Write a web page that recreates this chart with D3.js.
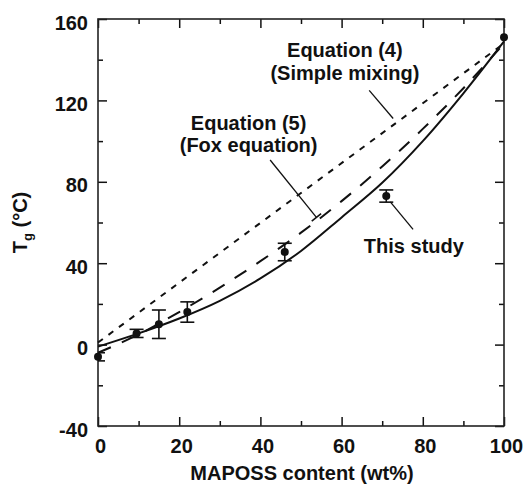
<!DOCTYPE html>
<html>
<head>
<meta charset="utf-8">
<script src="https://cdn.jsdelivr.net/npm/d3@7/dist/d3.min.js"></script>
<style>
  html, body { margin: 0; padding: 0; background: #fff; }
  svg { display: block; }
  text { font-family: "Liberation Sans", Arial, sans-serif; font-weight: bold; fill: #111; }
</style>
</head>
<body>
<svg id="chart" width="524" height="485"></svg>
<script>
// Measured Tg of the blends (wt% MAPOSS, °C, ± error)
const content = [0, 9.5, 15, 22, 46, 71, 100];
const tgMeasured = [-6, 5.5, 10, 16, 45.5, 73, 151];
const tgError = [2, 2, 7, 5, 4.3, 3, 0];

// Curves: fitted trend of this study, Fox equation, simple mixing rule
const curveContent = [0, 10, 20, 30, 40, 50, 60, 70, 80, 90, 100];
const studyTg = [-1, 5.5, 12.8, 21.5, 32.5, 46, 62.5, 79.5, 100, 123.5, 149];
const foxTg = [-4, 5, 16, 28, 41, 55, 70.5, 87.5, 106, 126, 148];
const mixContent = [0, 100];
const mixTg = [1, 148];

// Axis ticks
const xMajor = [0, 20, 40, 60, 80, 100];
const xMinor = [10, 30, 50, 70, 90];
const yMajor = [-40, 0, 40, 80, 120, 160];
const yMinor = [-20, 20, 60, 100, 140];

const svg = d3.select("#chart");
const plotL = 98, plotR = 504, plotT = 19, plotB = 426;

const x = d3.scaleLinear().domain([0, 100]).range([plotL, plotR]);
const y = d3.scaleLinear().domain([-40, 160]).range([plotB, plotT]);

const ink = "#111";

svg.append("defs").append("clipPath").attr("id", "plotClip")
  .append("rect").attr("x", plotL).attr("y", plotT)
  .attr("width", plotR - plotL).attr("height", plotB - plotT);

// Axes: ticks pointing inward on all four sides
function addAxis(axisFn, scale, values, size, transform, labels) {
  const ax = axisFn(scale).tickValues(values).tickSizeInner(-size).tickSizeOuter(0)
    .tickPadding(labels ? 12 : 0).tickFormat(labels ? (d => String(d)) : "");
  const g = svg.append("g").attr("transform", transform).call(ax);
  g.select(".domain").remove();
  g.selectAll(".tick line").attr("stroke", ink).attr("stroke-width", 1.5);
  return g;
}
const gx = addAxis(d3.axisBottom, x, xMajor, 9, `translate(0,${plotB})`, true);
addAxis(d3.axisBottom, x, xMinor, 5, `translate(0,${plotB})`, false);
addAxis(d3.axisTop, x, xMajor, 9, `translate(0,${plotT})`, false);
addAxis(d3.axisTop, x, xMinor, 5, `translate(0,${plotT})`, false);
const gy = addAxis(d3.axisLeft, y, yMajor, 9, `translate(${plotL},0)`, true);
addAxis(d3.axisLeft, y, yMinor, 5, `translate(${plotL},0)`, false);
addAxis(d3.axisRight, y, yMajor, 9, `translate(${plotR},0)`, false);
addAxis(d3.axisRight, y, yMinor, 5, `translate(${plotR},0)`, false);

gx.selectAll(".tick text").attr("font-size", 20).attr("font-family", null)
  .attr("fill", ink).attr("dx", 2).attr("y", 13);
gy.selectAll(".tick text").attr("font-size", 20).attr("font-family", null)
  .attr("fill", ink).attr("x", -10).attr("dy", "0.5em");

// Plot frame
svg.append("rect")
  .attr("x", plotL).attr("y", plotT)
  .attr("width", plotR - plotL).attr("height", plotB - plotT)
  .attr("fill", "none").attr("stroke", "#222").attr("stroke-width", 1.6);

// Curves
const line = d3.line().x(d => x(d[0])).y(d => y(d[1])).curve(d3.curveMonotoneX);

svg.append("path")
  .datum(d3.zip(mixContent, mixTg))
  .attr("d", line)
  .attr("fill", "none").attr("stroke", ink).attr("stroke-width", 2)
  .attr("stroke-dasharray", "6,7");

svg.append("path")
  .datum(d3.zip(curveContent, foxTg))
  .attr("d", line)
  .attr("fill", "none").attr("stroke", ink).attr("stroke-width", 2)
  .attr("stroke-dasharray", "14,12");

svg.append("path")
  .datum(d3.zip(curveContent, studyTg))
  .attr("d", line)
  .attr("fill", "none").attr("stroke", ink).attr("stroke-width", 2);

// Error bars (kept inside the frame)
const pts = content.map((c, i) => ({ c, t: tgMeasured[i], e: tgError[i] }));
const eb = svg.append("g").attr("clip-path", "url(#plotClip)")
  .attr("stroke", ink).attr("stroke-width", 1.6);
pts.filter(d => d.e > 0).forEach(d => {
  eb.append("line").attr("x1", x(d.c)).attr("x2", x(d.c))
    .attr("y1", y(d.t - d.e)).attr("y2", y(d.t + d.e));
  [d.t - d.e, d.t + d.e].forEach(v => {
    eb.append("line").attr("x1", x(d.c) - 7).attr("x2", x(d.c) + 7)
      .attr("y1", y(v)).attr("y2", y(v));
  });
});

// Measured points
svg.append("g").selectAll("circle").data(pts).join("circle")
  .attr("cx", d => x(d.c)).attr("cy", d => y(d.t)).attr("r", 4)
  .attr("fill", ink);

// Annotations
const ann = svg.append("g").attr("stroke", ink).attr("stroke-width", 1.3);
function pointer(a, b, capLen) {
  const x1 = x(a[0]), y1 = y(a[1]), x2 = x(b[0]), y2 = y(b[1]);
  ann.append("line").attr("x1", x1).attr("y1", y1).attr("x2", x2).attr("y2", y2);
  if (capLen) {
    const L = Math.hypot(x2 - x1, y2 - y1);
    const px = (y2 - y1) / L * capLen / 2, py = -(x2 - x1) / L * capLen / 2;
    ann.append("line").attr("x1", x2 - px).attr("y1", y2 - py)
      .attr("x2", x2 + px).attr("y2", y2 + py).attr("stroke-width", 1.6);
  }
}
pointer([66.8, 124.9], [72.7, 111.1], 0);
pointer([42.4, 90.7], [53.8, 62.5], 12);
pointer([72.0, 70.1], [77.6, 56.6], 0);

function label(txt, c, t) {
  svg.append("text").attr("x", x(c)).attr("y", y(t))
    .attr("text-anchor", "middle").attr("font-size", 20).text(txt);
}
label("Equation (4)", 60.8, 141.1);
label("(Simple mixing)", 60.8, 130);
label("Equation (5)", 37.1, 105.4);
label("(Fox equation)", 37.1, 94.4);
label("This study", 77.8, 45);

// Axis titles
svg.append("text")
  .attr("x", (plotL + plotR) / 2 + 1).attr("y", 480)
  .attr("text-anchor", "middle").attr("font-size", 20)
  .text("MAPOSS content (wt%)");

const yt = svg.append("text")
  .attr("transform", `translate(27,${(plotT + plotB) / 2}) rotate(-90)`)
  .attr("text-anchor", "middle").attr("font-size", 20);
yt.append("tspan").text("T");
yt.append("tspan").attr("font-size", 13).attr("dy", 5).text("g");
yt.append("tspan").attr("dy", -5).text(" (°C)");
</script>
</body>
</html>
